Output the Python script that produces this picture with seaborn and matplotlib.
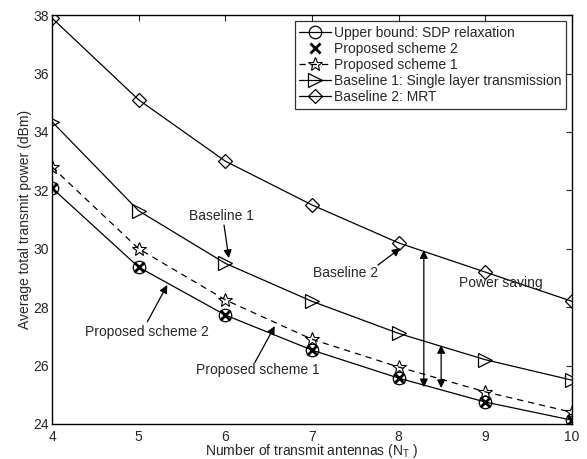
import matplotlib
matplotlib.use("Agg")
import matplotlib.pyplot as plt
import seaborn as sns
import pandas as pd
import numpy as np

antennas = [4, 5, 6, 7, 8, 9, 10]
upper_bound = [32.08, 29.37, 27.73, 26.53, 25.57, 24.75, 24.13]
proposed2 = [32.08, 29.37, 27.73, 26.53, 25.57, 24.75, 24.13]
proposed1 = [32.8, 30.0, 28.25, 26.9, 25.95, 25.1, 24.4]
baseline1 = [34.35, 31.3, 29.5, 28.2, 27.1, 26.2, 25.5]
baseline2 = [37.9, 35.1, 33.0, 31.5, 30.2, 29.2, 28.2]

labels = ["Upper bound: SDP relaxation", "Proposed scheme 2", "Proposed scheme 1",
          "Baseline 1: Single layer transmission", "Baseline 2: MRT"]

sns.set_style("white")
plt.rcParams['font.family'] = ['Liberation Sans', 'DejaVu Sans']
plt.rcParams['mathtext.fontset'] = 'custom'
plt.rcParams['mathtext.rm'] = 'Liberation Sans'
plt.rcParams['mathtext.it'] = 'Liberation Sans'

FS = 10

fig = plt.figure(figsize=(5.87, 4.59), dpi=100)
ax = fig.add_axes([0.0886, 0.0763, 0.8859, 0.8907])

series = [
    (upper_bound, labels[0], dict(marker='o', linestyle='-', markersize=9, markerfacecolor='none', markeredgewidth=0.9)),
    (proposed2, labels[1], dict(marker='x', linestyle='none', markersize=7, markeredgewidth=2.0)),
    (proposed1, labels[2], dict(marker='*', linestyle=(0, (5, 4)), markersize=10, markerfacecolor='none', markeredgewidth=0.8)),
    (baseline1, labels[3], dict(marker='>', linestyle='-', markersize=10, markerfacecolor='none', markeredgewidth=0.9)),
    (baseline2, labels[4], dict(marker='D', linestyle='-', markersize=7.5, markerfacecolor='none', markeredgewidth=0.9)),
]
for vals, lab, kw in series:
    sns.lineplot(x=antennas, y=vals, ax=ax, color='k', linewidth=0.9, label=lab,
                 markeredgecolor='k', **kw)

ax.set_xlim(4, 10)
ax.set_ylim(24, 38)
ax.set_xticks(antennas)
ax.set_yticks(np.arange(24, 39, 2))
ax.tick_params(direction='in', top=True, right=True, labelsize=FS, length=4, width=0.8)
ax.tick_params(axis='x', pad=4)
ax.tick_params(axis='y', pad=2)
for s in ax.spines.values():
    s.set_linewidth(1.0)
    s.set_color('k')
ax.set_xlabel("Number of transmit antennas (N$_\\mathrm{T}$ )", fontsize=FS, labelpad=-1)
ax.set_ylabel("Average total transmit power (dBm)", fontsize=FS, labelpad=1)

leg = ax.legend(loc='upper right', fontsize=FS, frameon=True, fancybox=False,
                edgecolor='k', borderpad=0.35, labelspacing=0.15, handlelength=2.3,
                handletextpad=0.2, borderaxespad=0.4)
leg.get_frame().set_linewidth(0.9)

arrow = dict(arrowstyle='-|>', color='k', lw=0.9, mutation_scale=12, shrinkA=0, shrinkB=0)
ax.text(5.95, 31.12, "Baseline 1", fontsize=FS, ha='center', va='center')
ax.annotate("", xy=(6.04, 29.68), xytext=(5.985, 30.81), arrowprops=arrow)
ax.text(5.1, 27.15, "Proposed scheme 2", fontsize=FS, ha='center', va='center')
ax.annotate("", xy=(5.33, 28.76), xytext=(5.10, 27.5), arrowprops=arrow)
ax.text(6.38, 25.85, "Proposed scheme 1", fontsize=FS, ha='center', va='center')
ax.annotate("", xy=(6.57, 27.35), xytext=(6.34, 26.1), arrowprops=arrow)
ax.text(7.39, 29.17, "Baseline 2", fontsize=FS, ha='center', va='center')
ax.annotate("", xy=(8.02, 30.02), xytext=(7.76, 29.44), arrowprops=arrow)
ax.text(9.18, 28.82, "Power saving", fontsize=FS, ha='center', va='center')

darrow = dict(arrowstyle='<|-|>', color='k', lw=0.9, mutation_scale=12, shrinkA=0, shrinkB=0)
ax.annotate("", xy=(8.29, 29.95), xytext=(8.29, 25.26), arrowprops=darrow)
ax.annotate("", xy=(8.49, 26.7), xytext=(8.49, 25.23), arrowprops=darrow)

fig.savefig("out.png", dpi=100)
